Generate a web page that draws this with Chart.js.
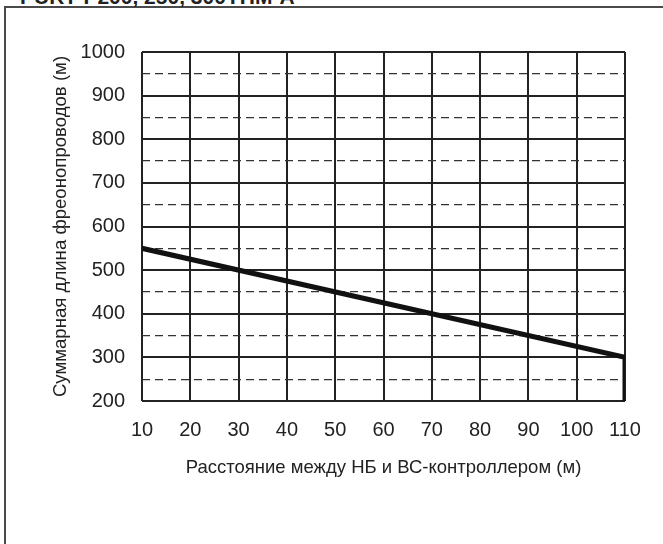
<!DOCTYPE html>
<html>
<head>
<meta charset="utf-8">
<script src="https://cdn.jsdelivr.net/npm/chart.js@4"></script>
<style>
html,body{margin:0;padding:0;background:#fff;overflow:hidden}
#wrap{position:relative;width:663px;height:544px;overflow:hidden}
#frame{position:absolute;left:4px;top:6px;width:720px;height:620px;border-left:2px solid #4a4a4a;border-top:2px solid #4a4a4a}
#model{position:absolute;left:20px;top:-14px;font:bold 21px "Liberation Sans",Arial,sans-serif;line-height:21px;color:#222;white-space:nowrap}
canvas{position:absolute;left:0;top:0}
</style>
</head>
<body>
<div id="wrap">
  <div id="frame"></div>
  <div id="model">PURY-P200, 250, 300YHM-A</div>
  <canvas id="c" width="663" height="544"></canvas>
</div>
<script>
// Data
const distance = [10, 110, 110];          // Расстояние между НБ и ВС-контроллером (м)
const totalLength = [550, 300, 200];      // Суммарная длина фреонопроводов (м)
const xTickValues = [10, 20, 30, 40, 50, 60, 70, 80, 90, 100, 110];
const yTickValues = [200, 300, 400, 500, 600, 700, 800, 900, 1000];
const xTitle = 'Расстояние между НБ и ВС-контроллером (м)';
const yTitle = 'Суммарная длина фреонопроводов (м)';

Chart.defaults.font.family = "'Liberation Sans', Arial, sans-serif";
Chart.defaults.color = '#222';

const points = distance.map((x, i) => ({x: x, y: totalLength[i]}));

new Chart(document.getElementById('c'), {
  type: 'line',
  data: {
    datasets: [{
      data: points,
      borderColor: '#111',
      borderWidth: 5,
      pointRadius: 0,
      fill: false,
      tension: 0,
      borderCapStyle: 'butt',
      borderJoinStyle: 'miter'
    }]
  },
  options: {
    responsive: false,
    animation: false,
    layout: {padding: {left: 0, right: 38, top: 52, bottom: 0}},
    plugins: {legend: {display: false}, tooltip: {enabled: false}},
    scales: {
      x: {
        type: 'linear',
        min: xTickValues[0],
        max: xTickValues[xTickValues.length - 1],
        afterBuildTicks: s => { s.ticks = xTickValues.map(v => ({value: v})); },
        ticks: {font: {size: 20}, color: '#222', padding: 17, maxRotation: 0, autoSkip: false,
                callback: v => String(v)},
        grid: {color: '#222', lineWidth: 2, drawTicks: false},
        border: {display: false},
        title: {display: true, text: xTitle, font: {size: 18.5}, color: '#222', padding: {top: 0, bottom: 65}},
        afterFit: s => { s.height = 143; }
      },
      y: {
        type: 'linear',
        min: yTickValues[0],
        max: yTickValues[yTickValues.length - 1],
        afterBuildTicks: s => { s.ticks = yTickValues.map(v => ({value: v})); },
        ticks: {font: {size: 20}, color: '#222', padding: 17, callback: v => String(v)},
        grid: {color: '#222', lineWidth: 2, drawTicks: false},
        border: {display: false},
        title: {display: true, text: yTitle, font: {size: 18.6}, color: '#222', padding: {top: 50, bottom: 0}},
        afterFit: s => { s.width = 142; }
      },
      y2: {
        type: 'linear',
        position: 'right',
        min: yTickValues[0],
        max: yTickValues[yTickValues.length - 1],
        ticks: {display: false, stepSize: 50},
        grid: {
          color: ctx => (ctx.tick && ctx.tick.value % 100 === 0) ? 'rgba(0,0,0,0)' : '#333',
          lineWidth: 1.3,
          drawTicks: false
        },
        border: {display: false, dash: [8, 5]},
        afterFit: s => { s.width = 0; }
      }
    }
  }
});
</script>
</body>
</html>
